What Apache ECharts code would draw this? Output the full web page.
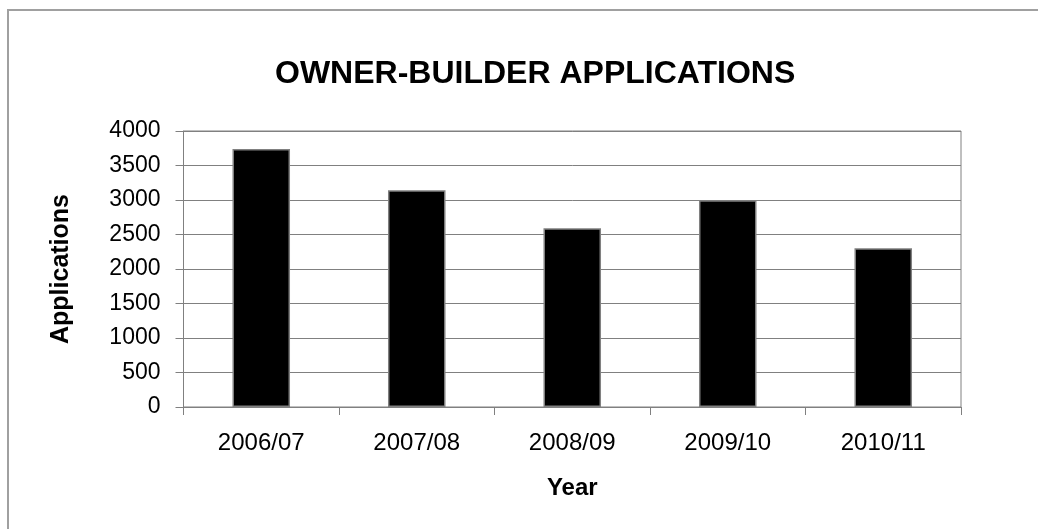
<!DOCTYPE html>
<html>
<head>
<meta charset="utf-8">
<script src="https://cdn.jsdelivr.net/npm/echarts@6/dist/echarts.min.js"></script>
<style>
html,body{margin:0;padding:0;background:#fff;}
#c{width:1038px;height:529px;}
</style>
</head>
<body>
<div id="c"></div>
<script>
const categories = ['2006/07', '2007/08', '2008/09', '2009/10', '2010/11'];
const applications = [3740, 3140, 2590, 2995, 2300];
const yTicks = [0, 500, 1000, 1500, 2000, 2500, 3000, 3500, 4000];

const chart = echarts.init(document.getElementById('c'));
const font = 'Liberation Sans, Arial, sans-serif';
chart.setOption({
  backgroundColor: '#fff',
  animation: false,
  graphic: [{
    type: 'rect', silent: true, z: -1,
    shape: {x: 8, y: 10, width: 1200, height: 700},
    style: {fill: 'none', stroke: '#a0a0a0', lineWidth: 2}
  }],
  title: {
    text: 'OWNER-BUILDER APPLICATIONS',
    left: 270, top: 53,
    textStyle: {fontFamily: font, fontSize: 32, fontWeight: 'bold', color: '#000'}
  },
  grid: {left: 183.5, right: 77, top: 131, bottom: 122, show: true, borderColor: '#808080', borderWidth: 1},
  xAxis: {
    type: 'category', data: categories,
    name: 'Year', nameLocation: 'middle', nameGap: 69,
    nameTextStyle: {fontFamily: font, fontSize: 24, fontWeight: 'bold', color: '#000'},
    axisLine: {lineStyle: {color: '#808080', width: 1}},
    axisTick: {show: true, length: 8, lineStyle: {color: '#808080'}},
    axisLabel: {fontFamily: font, fontSize: 24, color: '#000', margin: 24}
  },
  yAxis: {
    type: 'value', min: 0, max: yTicks[yTicks.length - 1], interval: yTicks[1] - yTicks[0],
    name: 'Applications', nameLocation: 'middle', nameGap: 110,
    nameTextStyle: {fontFamily: font, fontSize: 25, fontWeight: 'bold', color: '#000'},
    axisLine: {show: true, lineStyle: {color: '#808080', width: 1}},
    axisTick: {show: true, length: 8, lineStyle: {color: '#808080'}},
    splitLine: {lineStyle: {color: '#808080', width: 1}},
    axisLabel: {fontFamily: font, fontSize: 23, color: '#000', margin: 23,
      formatter: function (v) { return String(v); }}
  },
  series: [{
    type: 'bar', data: applications, barWidth: '37%',
    itemStyle: {color: '#000', borderColor: '#808080', borderWidth: 1.5}
  }]
});
</script>
</body>
</html>
